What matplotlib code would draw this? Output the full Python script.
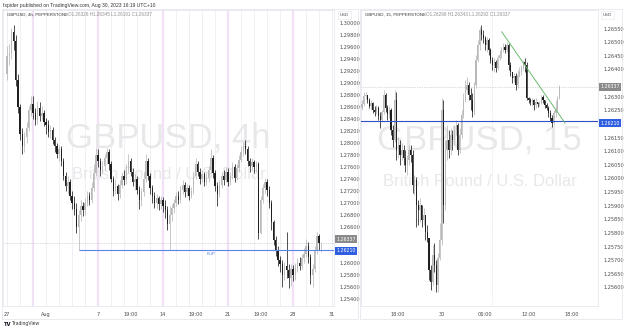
import numpy as np
import matplotlib
matplotlib.use('Agg')
import matplotlib.pyplot as plt
from matplotlib.transforms import blended_transform_factory

# ---------------- GBPUSD 4h (left panel) ----------------
h4_open0 = 1.2915
h4_close = [1.2945, 1.2950, 1.2985, 1.2970, 1.2905, 1.2860,
            1.2815, 1.2795, 1.2810, 1.2825, 1.2855, 1.2865,
            1.2850, 1.2838, 1.2858, 1.2845, 1.2850, 1.2835,
            1.2830, 1.2818, 1.2822, 1.2805, 1.2795, 1.2782,
            1.2790, 1.2770, 1.2745, 1.2728, 1.2735, 1.2712,
            1.2700, 1.2690, 1.2660, 1.2680, 1.2695, 1.2688,
            1.2700, 1.2712, 1.2705, 1.2725, 1.2750, 1.2780,
            1.2770, 1.2755, 1.2762, 1.2775, 1.2785, 1.2765,
            1.2740, 1.2720, 1.2728, 1.2715, 1.2730, 1.2745,
            1.2738, 1.2755, 1.2770, 1.2752, 1.2735, 1.2740,
            1.2722, 1.2705, 1.2718, 1.2740, 1.2770, 1.2745,
            1.2725, 1.2712, 1.2700, 1.2708, 1.2698, 1.2705,
            1.2695, 1.2688, 1.2665, 1.2680, 1.2692, 1.2700,
            1.2712, 1.2705, 1.2722, 1.2730, 1.2718, 1.2725,
            1.2712, 1.2720, 1.2745, 1.2765, 1.2752, 1.2740,
            1.2748, 1.2735, 1.2742, 1.2755, 1.2775, 1.2750,
            1.2728, 1.2715, 1.2730, 1.2745, 1.2738, 1.2752,
            1.2735, 1.2745, 1.2760, 1.2742, 1.2758, 1.2772,
            1.2785, 1.2795, 1.2790, 1.2770, 1.2762, 1.2768,
            1.2760, 1.2765, 1.2650, 1.2705, 1.2725, 1.2735,
            1.2722, 1.2700, 1.2668, 1.2638, 1.2620, 1.2605,
            1.2598, 1.2580, 1.2595, 1.2588, 1.2575, 1.2590,
            1.2580, 1.2592, 1.2600, 1.2595, 1.2608, 1.2615,
            1.2628, 1.2610, 1.2580, 1.2590, 1.2620, 1.2645,
            1.26326, 1.26337]
h4_high = [1.2962, 1.2965, 1.2992, 1.2997, 1.2980, 1.2915,
           1.2865, 1.2825, 1.2818, 1.2835, 1.2862, 1.2878,
           1.2878, 1.2858, 1.2870, 1.2868, 1.2862, 1.2855,
           1.2842, 1.2838, 1.2830, 1.2826, 1.2810, 1.2800,
           1.2797, 1.2795, 1.2775, 1.2752, 1.2745, 1.2740,
           1.2720, 1.2712, 1.2700, 1.2688, 1.2705, 1.2702,
           1.2708, 1.2720, 1.2718, 1.2735, 1.2765, 1.2792,
           1.2790, 1.2775, 1.2770, 1.2782, 1.2792, 1.2790,
           1.2770, 1.2745, 1.2740, 1.2732, 1.2738, 1.2752,
           1.2755, 1.2765, 1.2782, 1.2775, 1.2758, 1.2748,
           1.2745, 1.2728, 1.2725, 1.2752, 1.2782, 1.2775,
           1.2750, 1.2730, 1.2718, 1.2715, 1.2712, 1.2712,
           1.2710, 1.2705, 1.2695, 1.2695, 1.2698, 1.2706,
           1.2718, 1.2720, 1.2728, 1.2738, 1.2735, 1.2732,
           1.2730, 1.2726, 1.2752, 1.2775, 1.2770, 1.2758,
           1.2755, 1.2752, 1.2750, 1.2762, 1.2790, 1.2780,
           1.2755, 1.2735, 1.2738, 1.2752, 1.2755, 1.2760,
           1.2758, 1.2752, 1.2768, 1.2765, 1.2765, 1.2780,
           1.2795, 1.2802, 1.2805, 1.2795, 1.2775, 1.2775,
           1.2772, 1.2770, 1.2768, 1.2712, 1.2732, 1.2742,
           1.2740, 1.2728, 1.2705, 1.2672, 1.2645, 1.2628,
           1.2612, 1.2605, 1.2602, 1.2652, 1.2598, 1.2598,
           1.2596, 1.2600, 1.2608, 1.2610, 1.2615, 1.2625,
           1.2640, 1.2635, 1.2615, 1.2598, 1.2628, 1.2652,
           1.2648, 1.26345]
h4_low = [1.2905, 1.2930, 1.2940, 1.2955, 1.2895, 1.2850,
          1.2805, 1.2782, 1.2785, 1.2800, 1.2820, 1.2845,
          1.2840, 1.2830, 1.2832, 1.2836, 1.2838, 1.2828,
          1.2815, 1.2810, 1.2808, 1.2798, 1.2785, 1.2775,
          1.2770, 1.2762, 1.2738, 1.2720, 1.2715, 1.2705,
          1.2690, 1.2680, 1.2650, 1.2622, 1.2670, 1.2678,
          1.2680, 1.2695, 1.2696, 1.2700, 1.2720, 1.2745,
          1.2760, 1.2745, 1.2750, 1.2755, 1.2765, 1.2755,
          1.2735, 1.2712, 1.2715, 1.2705, 1.2708, 1.2725,
          1.2730, 1.2732, 1.2750, 1.2745, 1.2728, 1.2722,
          1.2715, 1.2690, 1.2695, 1.2712, 1.2735, 1.2738,
          1.2715, 1.2700, 1.2692, 1.2690, 1.2688, 1.2690,
          1.2685, 1.2675, 1.2655, 1.2622, 1.2670, 1.2684,
          1.2695, 1.2698, 1.2700, 1.2715, 1.2710, 1.2712,
          1.2705, 1.2708, 1.2715, 1.2740, 1.2745, 1.2732,
          1.2735, 1.2728, 1.2730, 1.2735, 1.2750, 1.2742,
          1.2720, 1.2695, 1.2710, 1.2725, 1.2730, 1.2735,
          1.2728, 1.2730, 1.2740, 1.2735, 1.2738, 1.2752,
          1.2768, 1.2778, 1.2782, 1.2762, 1.2752, 1.2755,
          1.2750, 1.2752, 1.2640, 1.2648, 1.2700, 1.2715,
          1.2712, 1.2692, 1.2655, 1.2630, 1.2612, 1.2595,
          1.2585, 1.2560, 1.2572, 1.2575, 1.2558, 1.2562,
          1.2570, 1.2572, 1.2585, 1.2588, 1.2590, 1.2600,
          1.2610, 1.2600, 1.2565, 1.2560, 1.2585, 1.2615,
          1.2622, 1.26191]
h4_ticks = [0, 18, 42, 57, 72, 87, 102, 117, 132, 150]
h4_labels = ['27', 'Aug', '7', '19:00', '14', '19:00', '21', '19:00', '28', '31']
h4_weeks = [12, 42, 72, 102, 132]
h4_yticks = [1.300, 1.298, 1.296, 1.294, 1.292, 1.290, 1.288, 1.286, 1.284, 1.282,
             1.280, 1.278, 1.276, 1.274, 1.272, 1.270, 1.268, 1.266, 1.260, 1.258,
             1.256, 1.254]
flip_level = 1.2621
flip_start = 33
last_close = 1.26337

# ---------------- GBPUSD 15m (right panel) ----------------
m15_open0 = 1.26258
m15_close = [1.26273, 1.26302, 1.26306, 1.26288, 1.26266, 1.26277, 1.26251, 1.26244, 1.26258, 1.26229,
             1.26214, 1.26244, 1.26306, 1.26258, 1.26236, 1.26251, 1.26178, 1.26141, 1.26288, 1.26104,
             1.26123, 1.26086, 1.26104, 1.26075, 1.26049, 1.26068, 1.26104, 1.26086, 1.25976, 1.25994,
             1.25902, 1.25884, 1.25902, 1.25847, 1.25866, 1.25803, 1.25781, 1.25664, 1.25620, 1.25719,
             1.25682, 1.25609, 1.25708, 1.25774, 1.26251, 1.25902, 1.26104, 1.26141, 1.26104, 1.26159,
             1.26141, 1.26178, 1.26196, 1.26104, 1.26159, 1.26233, 1.26288, 1.26324, 1.26343, 1.26306,
             1.26288, 1.26244, 1.26343, 1.26434, 1.26490, 1.26545, 1.26526, 1.26515, 1.26490, 1.26508,
             1.26471, 1.26434, 1.26416, 1.26427, 1.26405, 1.26442, 1.26453, 1.26471, 1.26482, 1.26471,
             1.26490, 1.26416, 1.26390, 1.26368, 1.26376, 1.26343, 1.26379, 1.26390, 1.26405, 1.26427,
             1.26416, 1.26295, 1.26288, 1.26280, 1.26288, 1.26269, 1.26280, 1.26273, 1.26277, 1.26299,
             1.26288, 1.26269, 1.26258, 1.26240, 1.26222, 1.26203, 1.26240, 1.26251, 1.26296, 1.26337]
m15_high = [1.26288, 1.26317, 1.26317, 1.26306, 1.26295, 1.26288, 1.26280, 1.26266, 1.26269, 1.26266,
            1.26244, 1.26251, 1.26324, 1.26313, 1.26269, 1.26266, 1.26258, 1.26196, 1.26324, 1.26317,
            1.26152, 1.26141, 1.26130, 1.26123, 1.26104, 1.26086, 1.26123, 1.26123, 1.26104, 1.26012,
            1.26005, 1.25921, 1.25928, 1.25902, 1.25891, 1.25866, 1.25829, 1.25781, 1.25682, 1.25756,
            1.25763, 1.25701, 1.25726, 1.25836, 1.26295, 1.26288, 1.26141, 1.26196, 1.26178, 1.26185,
            1.26178, 1.26196, 1.26214, 1.26203, 1.26185, 1.26251, 1.26313, 1.26361, 1.26372, 1.26354,
            1.26332, 1.26313, 1.26354, 1.26453, 1.26508, 1.26556, 1.26563, 1.26545, 1.26523, 1.26519,
            1.26515, 1.26479, 1.26446, 1.26442, 1.26434, 1.26453, 1.26471, 1.26482, 1.26497, 1.26493,
            1.26501, 1.26497, 1.26427, 1.26390, 1.26387, 1.26387, 1.26398, 1.26409, 1.26416, 1.26434,
            1.26442, 1.26427, 1.26299, 1.26295, 1.26295, 1.26291, 1.26295, 1.26280, 1.26284, 1.26306,
            1.26306, 1.26288, 1.26277, 1.26266, 1.26251, 1.26233, 1.26251, 1.26288, 1.26302, 1.26343]
m15_low = [1.26251, 1.26266, 1.26291, 1.26277, 1.26258, 1.26251, 1.26240, 1.26229, 1.26236, 1.26214,
           1.26185, 1.26207, 1.26236, 1.26244, 1.26214, 1.26222, 1.26159, 1.26115, 1.26134, 1.26068,
           1.26075, 1.26049, 1.26068, 1.26049, 1.26024, 1.26012, 1.26049, 1.26060, 1.25946, 1.25939,
           1.25822, 1.25829, 1.25840, 1.25822, 1.25829, 1.25774, 1.25767, 1.25627, 1.25590, 1.25609,
           1.25657, 1.25583, 1.25583, 1.25701, 1.25756, 1.25836, 1.25884, 1.26068, 1.26075, 1.26086,
           1.26104, 1.26123, 1.26159, 1.26086, 1.26093, 1.26148, 1.26222, 1.26280, 1.26313, 1.26288,
           1.26251, 1.26225, 1.26233, 1.26332, 1.26427, 1.26471, 1.26508, 1.26497, 1.26471, 1.26464,
           1.26453, 1.26423, 1.26398, 1.26390, 1.26390, 1.26398, 1.26434, 1.26442, 1.26464, 1.26460,
           1.26464, 1.26398, 1.26376, 1.26350, 1.26354, 1.26324, 1.26332, 1.26372, 1.26379, 1.26398,
           1.26390, 1.26288, 1.26277, 1.26269, 1.26266, 1.26251, 1.26258, 1.26262, 1.26266, 1.26273,
           1.26277, 1.26258, 1.26251, 1.26225, 1.26211, 1.26189, 1.26196, 1.26225, 1.26244, 1.26292]
m15_ticks = [20, 44, 68, 92, 116]
m15_labels = ['18:00', '30', '06:00', '12:00', '18:00']
m15_session = 72
m15_yticks = [1.2655, 1.2650, 1.2645, 1.2640, 1.2630, 1.2625, 1.2615, 1.2610, 1.2605,
              1.2600, 1.2595, 1.2590, 1.2585, 1.2580, 1.2575, 1.2570, 1.2565, 1.2560]
trend_x = [77.2, 112.2]
trend_y = [1.26538, 1.26203]

UP = '#b9b9b9'
DN = '#1f1f1f'
GRID = '#eceef2'
TXT = '#4a4a4a'
SANS = ['Liberation Sans', 'DejaVu Sans']
W, H = 625, 332


def candles(ax, o0, close, high, low, width):
    c = np.array(close)
    o = np.concatenate([[o0], c[:-1]])
    h = np.maximum(np.array(high), np.maximum(o, c))
    l = np.minimum(np.array(low), np.minimum(o, c))
    x = np.arange(len(c))
    col = np.where(c >= o, UP, DN)
    ax.vlines(x, l, h, colors=col, lw=0.55, zorder=3)
    body = np.maximum(np.abs(c - o), 0.00002)
    ax.bar(x, body, bottom=np.minimum(o, c), width=width, color=col, linewidth=0, zorder=3)


def price_box(ax, price, text, fc, dy=0):
    tr = blended_transform_factory(ax.transAxes, ax.transData)
    ax.annotate(text, xy=(1.0, price), xycoords=tr, xytext=(1.8, dy), textcoords='offset points',
                fontsize=3.4, color='white', ha='left', va='center', zorder=10, annotation_clip=False,
                bbox=dict(boxstyle='square,pad=0.3', fc=fc, ec='none'))


def style(ax):
    for s in ax.spines.values():
        s.set_color('#e0e3eb')
        s.set_linewidth(0.5)
    ax.yaxis.tick_right()
    ax.tick_params(axis='both', length=0, labelsize=3.6, labelcolor=TXT)
    ax.tick_params(axis='y', pad=4)
    ax.tick_params(axis='x', pad=4)
    ax.yaxis.set_major_formatter(plt.FuncFormatter(lambda v, p: '%.5f' % v))


fig = plt.figure(figsize=(W / 100, H / 100), dpi=100)

# panel frames
for x0, x1 in [(2, 358), (360, 622)]:
    fig.patches.append(plt.Rectangle((x0 / W, 1 - 319 / H), (x1 - x0) / W, 310 / H,
                                     transform=fig.transFigure, fill=False, ec='#e0e3eb', lw=0.5))

# ---- left ----
axL = fig.add_axes([3 / W, 26 / H, 331 / W, 296 / H])
style(axL)
for d in range(0, 151, 6):
    axL.axvline(d, color=GRID, lw=0.6, zorder=0)
for wk in h4_weeks:
    axL.axvline(wk, color='#f1e1f4', lw=1.6, zorder=0)
axL.text(0.5, 0.568, 'GBPUSD, 4h', transform=axL.transAxes, fontsize=25, color='#e8e8eb',
         family=SANS, ha='center', va='center', zorder=1)
axL.text(0.5, 0.443, 'British Pound / U.S. Dollar', transform=axL.transAxes, fontsize=12,
         color='#e8e8eb', family=SANS, ha='center', va='center', zorder=1)
candles(axL, h4_open0, h4_close, h4_high, h4_low, 0.62)
axL.axhline(last_close, color='#b5b5b5', lw=0.5, ls=(0, (1, 1.5)), zorder=2)
axL.hlines(flip_level, flip_start, 151, color='#5a84ea', lw=0.8, zorder=4)
axL.text(94, flip_level - 0.0003, 'FLIP', color='#5a84ea', fontsize=3.2, ha='center', va='top', zorder=4)
axL.set_xlim(-1.85, 150.9)
axL.set_ylim(1.25283, 1.30217)
axL.set_yticks(h4_yticks)
axL.set_xticks(h4_ticks)
axL.set_xticklabels(h4_labels)
price_box(axL, last_close, '1.26337', '#8a8a8a', dy=2.6)
price_box(axL, flip_level, '1.26210', '#2f5fe0', dy=-0.4)

# ---- right ----
axR = fig.add_axes([361 / W, 26 / H, 237 / W, 296 / H])
style(axR)
axR.axvline(m15_session, color='#d4d4d4', lw=0.5, ls=(0, (1, 1.5)), zorder=0)
axR.text(0.5, 0.56, 'GBPUSD, 15', transform=axR.transAxes, fontsize=25, color='#e8e8eb',
         family=SANS, ha='center', va='center', zorder=1)
axR.text(0.5, 0.422, 'British Pound / U.S. Dollar', transform=axR.transAxes, fontsize=12,
         color='#e8e8eb', family=SANS, ha='center', va='center', zorder=1)
candles(axR, m15_open0, m15_close, m15_high, m15_low, 0.62)
axR.axhline(last_close, color='#b5b5b5', lw=0.5, ls=(0, (1, 1.5)), zorder=2)
axR.axhline(flip_level, color='#2f4fc8', lw=0.8, zorder=4)
axR.plot(trend_x, trend_y, color='#6dbb6f', lw=0.7, zorder=4)
axR.set_xlim(-0.55, 130.4)
axR.set_ylim(1.25532, 1.26618)
axR.set_yticks(m15_yticks)
axR.set_xticks(m15_ticks)
axR.set_xticklabels(m15_labels)
price_box(axR, last_close, '1.26337', '#8a8a8a')
price_box(axR, flip_level, '1.26210', '#2f5fe0', dy=-1.5)

# ---- texts ----
def ftext(x, y, s, **kw):
    fig.text(x / W, 1 - y / H, s, va='center', ha='left', **kw)

ftext(3, 5, 'fxpider published on TradingView.com, Aug 30, 2023 16:19 UTC+10', fontsize=3.6,
      color='#333333', family=SANS)
ftext(7, 15, 'GBPUSD, 4h, PEPPERSTONE', fontsize=3.2, color='#333333', family=SANS)
ftext(68, 15, 'O1.26326 H1.26345 L1.26191 C1.26337', fontsize=3.3, color='#909090', family=SANS)
ftext(365, 15, 'GBPUSD, 15, PEPPERSTONE', fontsize=3.2, color='#333333', family=SANS)
ftext(426, 15, 'O1.26296 H1.26343 L1.26292 C1.26337', fontsize=3.3, color='#909090', family=SANS)
for xu in (340, 603):
    ftext(xu, 15, 'USD', fontsize=3.2, color='#555555',
          bbox=dict(boxstyle='square,pad=0.4', fc='white', ec='#e0e3eb', lw=0.4))
ftext(3, 324, 'TV', fontsize=3.8, color='#131722', fontweight='bold')
ftext(12, 324, 'TradingView', fontsize=3.6, color='#333333', family=SANS)

fig.savefig('out.png', dpi=100, facecolor='white')
